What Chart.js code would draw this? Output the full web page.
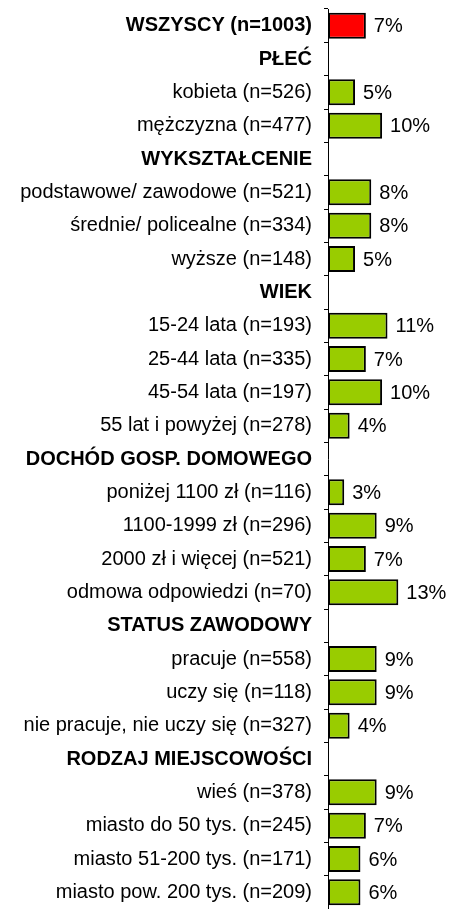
<!DOCTYPE html>
<html>
<head>
<meta charset="utf-8">
<script src="https://cdn.jsdelivr.net/npm/chart.js@4"></script>
<style>
  html, body { margin: 0; padding: 0; background: #fff; }
  #wrap { width: 450px; height: 909px; position: relative; }
</style>
</head>
<body>
<div id="wrap"><canvas id="wykres"></canvas></div>
<script>
const kategorie = [
    "WSZYSCY (n=1003)",
    "PŁEĆ",
    "kobieta (n=526)",
    "mężczyzna (n=477)",
    "WYKSZTAŁCENIE",
    "podstawowe/ zawodowe (n=521)",
    "średnie/ policealne (n=334)",
    "wyższe (n=148)",
    "WIEK",
    "15-24 lata (n=193)",
    "25-44 lata (n=335)",
    "45-54 lata (n=197)",
    "55 lat i powyżej (n=278)",
    "DOCHÓD GOSP. DOMOWEGO",
    "poniżej 1100 zł (n=116)",
    "1100-1999 zł (n=296)",
    "2000 zł i więcej (n=521)",
    "odmowa odpowiedzi (n=70)",
    "STATUS ZAWODOWY",
    "pracuje (n=558)",
    "uczy się (n=118)",
    "nie pracuje, nie uczy się (n=327)",
    "RODZAJ MIEJSCOWOŚCI",
    "wieś (n=378)",
    "miasto do 50 tys. (n=245)",
    "miasto 51-200 tys. (n=171)",
    "miasto pow. 200 tys. (n=209)",
];

const wartosci = [
    7, null, 5, 10, null, 8, 8, 5, null, 11, 7, 10, 4,
    null, 3, 9, 7, 13, null, 9, 9, 4, null, 9, 7, 6, 6,
];

// wiersze pisane pogrubiona czcionka (naglowki grup)
const naglowki = [0, 1, 4, 8, 13, 18, 22];

const kolory = kategorie.map((k, i) => (i === 0 ? "#ff0000" : "#99cc00"));

const czcionka = "'Liberation Sans', Arial, sans-serif";

// podpisy z procentami obok slupkow
const podpisy = {
    id: "podpisy",
    afterDatasetsDraw(chart) {
        const ctx = chart.ctx;
        const meta = chart.getDatasetMeta(0);
        ctx.save();
        ctx.font = "20px " + czcionka;
        ctx.fillStyle = "#000";
        ctx.textAlign = "left";
        ctx.textBaseline = "middle";
        meta.data.forEach((bar, i) => {
            if (wartosci[i] === null) return;
            ctx.fillText(wartosci[i] + "%", bar.x + 8, bar.y + 1);
        });
        ctx.restore();
    },
};

new Chart(document.getElementById("wykres"), {
    type: "bar",
    data: {
        labels: kategorie,
        datasets: [
            {
                data: wartosci,
                backgroundColor: kolory,
                borderColor: "#000",
                borderWidth: 2,
                borderSkipped: false,
                barPercentage: 0.78,
                categoryPercentage: 1,
            },
        ],
    },
    options: {
        indexAxis: "y",
        responsive: true,
        maintainAspectRatio: false,
        animation: false,
        layout: { padding: { top: 9, right: 3, bottom: 0, left: 0 } },
        plugins: {
            legend: { display: false },
            tooltip: { enabled: false },
        },
        scales: {
            x: {
                display: false,
                min: 0,
                max: 22,
            },
            y: {
                afterFit(scale) {
                    scale.width = 328;
                    scale.paddingTop = 0;
                    scale.paddingBottom = 0;
                },
                border: { display: true, color: "#000", width: 1 },
                grid: {
                    offset: true,
                    drawOnChartArea: false,
                    drawTicks: true,
                    tickLength: 4,
                    color: "#000",
                },
                ticks: {
                    padding: 12,
                    color: "#000",
                    autoSkip: false,
                    font: (c) => ({
                        family: czcionka,
                        size: 20,
                        weight: naglowki.includes(c.index) ? "bold" : "normal",
                    }),
                },
            },
        },
    },
    plugins: [podpisy],
});
</script>
</body>
</html>
